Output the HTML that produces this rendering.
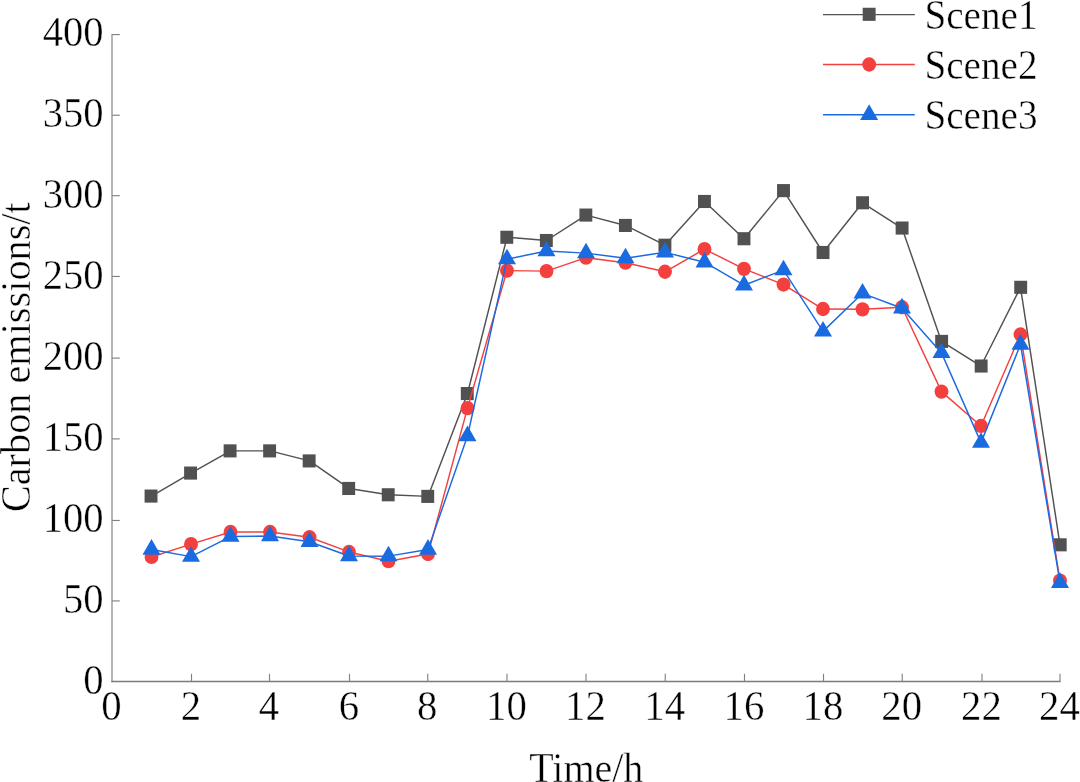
<!DOCTYPE html>
<html lang="en">
<head>
<meta charset="utf-8">
<title>Carbon emissions</title>
<style>
html,body{margin:0;padding:0;background:#fff;}
body{width:1080px;height:782px;overflow:hidden;}
svg{display:block;}
text{font-family:"Liberation Serif","Times New Roman",serif;font-size:40px;fill:#000;stroke:#fff;stroke-width:0.4px;}
</style>
</head>
<body>
<svg width="1080" height="782" viewBox="0 0 1080 782">
<rect width="1080" height="782" fill="#fff"/>

<path d="M112 34V682.15" stroke="#8a8a8a" stroke-width="1.25" fill="none"/>
<path d="M111.4 681.5H1060.6" stroke="#7a7a7a" stroke-width="1.3" fill="none"/>
<g stroke="#828282" stroke-width="1.15" fill="none">
<path d="M112.1 600.92H119.8"/>
<path d="M112.1 520.46H119.8"/>
<path d="M112.1 438.88H119.8"/>
<path d="M112.1 358.1H119.8"/>
<path d="M112.1 276.46H119.8"/>
<path d="M112.1 195.69H119.8"/>
<path d="M112.1 115.23H119.8"/>
<path d="M112.1 34.58H119.8"/>
<path d="M191.5 681.5V673.8"/>
<path d="M269.5 681.5V673.8"/>
<path d="M349.5 681.5V673.8"/>
<path d="M427.75 681.5V673.8"/>
<path d="M507 681.5V673.8"/>
<path d="M586 681.5V673.8"/>
<path d="M665.25 681.5V673.8"/>
<path d="M744.5 681.5V673.8"/>
<path d="M823.5 681.5V673.8"/>
<path d="M902.25 681.5V673.8"/>
<path d="M982 681.5V673.8"/>
<path d="M1060 681.5V673.8"/>
</g>
<text transform="translate(103.5 693.65) scale(1.015 1.068)" text-anchor="end">0</text>
<text transform="translate(103.5 612.67) scale(1.015 1.068)" text-anchor="end">50</text>
<text transform="translate(103.5 531.7) scale(1.015 1.068)" text-anchor="end">100</text>
<text transform="translate(103.5 450.73) scale(1.015 1.068)" text-anchor="end">150</text>
<text transform="translate(103.5 369.75) scale(1.015 1.068)" text-anchor="end">200</text>
<text transform="translate(103.5 288.77) scale(1.015 1.068)" text-anchor="end">250</text>
<text transform="translate(103.5 207.8) scale(1.015 1.068)" text-anchor="end">300</text>
<text transform="translate(103.5 126.82) scale(1.015 1.068)" text-anchor="end">350</text>
<text transform="translate(103.5 45.85) scale(1.015 1.068)" text-anchor="end">400</text>
<text transform="translate(111.5 720.4) scale(1.02 1.065)" text-anchor="middle">0</text>
<text transform="translate(191 720.4) scale(1.02 1.065)" text-anchor="middle">2</text>
<text transform="translate(269 720.4) scale(1.02 1.065)" text-anchor="middle">4</text>
<text transform="translate(349 720.4) scale(1.02 1.065)" text-anchor="middle">6</text>
<text transform="translate(427.25 720.4) scale(1.02 1.065)" text-anchor="middle">8</text>
<text transform="translate(506.5 720.4) scale(1.02 1.065)" text-anchor="middle">10</text>
<text transform="translate(585.5 720.4) scale(1.02 1.065)" text-anchor="middle">12</text>
<text transform="translate(664.75 720.4) scale(1.02 1.065)" text-anchor="middle">14</text>
<text transform="translate(744 720.4) scale(1.02 1.065)" text-anchor="middle">16</text>
<text transform="translate(823 720.4) scale(1.02 1.065)" text-anchor="middle">18</text>
<text transform="translate(901.75 720.4) scale(1.02 1.065)" text-anchor="middle">20</text>
<text transform="translate(981.5 720.4) scale(1.02 1.065)" text-anchor="middle">22</text>
<text transform="translate(1059.5 720.4) scale(1.02 1.065)" text-anchor="middle">24</text>
<text transform="translate(586.3 782.3) scale(1.0 1.065)" text-anchor="middle">Time/h</text>
<text transform="translate(29.5 357.2) rotate(-90) scale(1.007 1.07)" text-anchor="middle">Carbon emissions/t</text>
<polyline points="151.5,496.07 191,473.07 230.5,450.88 270,450.88 309.5,460.92 349,488.46 388.5,494.77 428,496.39 467.5,393.55 507,237.27 546.5,240.51 586,215.08 625.5,225.45 665,245.21 704.5,201.48 744,238.73 783.5,190.63 823,252.49 862.5,202.78 902,228.04 941.5,341.41 981,366.02 1020.5,287.31 1060,544.81" fill="none" stroke="#515151" stroke-width="1.45" stroke-linejoin="round"/>
<g><rect x="144.58" y="489.52" width="12.9" height="13.1" fill="#515151"/><rect x="184.11" y="466.52" width="12.9" height="13.1" fill="#515151"/><rect x="223.64" y="444.33" width="12.9" height="13.1" fill="#515151"/><rect x="263.17" y="444.33" width="12.9" height="13.1" fill="#515151"/><rect x="302.7" y="454.37" width="12.9" height="13.1" fill="#515151"/><rect x="342.23" y="481.91" width="12.9" height="13.1" fill="#515151"/><rect x="381.76" y="488.22" width="12.9" height="13.1" fill="#515151"/><rect x="421.29" y="489.84" width="12.9" height="13.1" fill="#515151"/><rect x="460.82" y="387" width="12.9" height="13.1" fill="#515151"/><rect x="500.35" y="230.72" width="12.9" height="13.1" fill="#515151"/><rect x="539.88" y="233.96" width="12.9" height="13.1" fill="#515151"/><rect x="579.41" y="208.53" width="12.9" height="13.1" fill="#515151"/><rect x="618.94" y="218.9" width="12.9" height="13.1" fill="#515151"/><rect x="658.47" y="238.66" width="12.9" height="13.1" fill="#515151"/><rect x="698" y="194.93" width="12.9" height="13.1" fill="#515151"/><rect x="737.53" y="232.18" width="12.9" height="13.1" fill="#515151"/><rect x="777.06" y="184.08" width="12.9" height="13.1" fill="#515151"/><rect x="816.59" y="245.94" width="12.9" height="13.1" fill="#515151"/><rect x="856.12" y="196.23" width="12.9" height="13.1" fill="#515151"/><rect x="895.65" y="221.49" width="12.9" height="13.1" fill="#515151"/><rect x="935.18" y="334.86" width="12.9" height="13.1" fill="#515151"/><rect x="974.71" y="359.47" width="12.9" height="13.1" fill="#515151"/><rect x="1014.24" y="280.76" width="12.9" height="13.1" fill="#515151"/><rect x="1053.77" y="538.26" width="12.9" height="13.1" fill="#515151"/></g>
<polyline points="151.5,556.96 191,544.17 230.5,532.02 270,532.02 309.5,537.2 349,551.94 388.5,561.17 428,554.05 467.5,408.13 507,270.63 546.5,271.12 586,257.68 625.5,262.7 665,271.77 704.5,249.17 744,268.85 783.5,284.56 823,309.01 862.5,309.34 902,307.23 941.5,391.61 981,425.94 1020.5,334.44 1060,580.61" fill="none" stroke="#f3403f" stroke-width="1.45" stroke-linejoin="round"/>
<g><ellipse cx="151.5" cy="556.96" rx="6.95" ry="7.15" fill="#f3403f"/><ellipse cx="191" cy="544.17" rx="6.95" ry="7.15" fill="#f3403f"/><ellipse cx="230.5" cy="532.02" rx="6.95" ry="7.15" fill="#f3403f"/><ellipse cx="270" cy="532.02" rx="6.95" ry="7.15" fill="#f3403f"/><ellipse cx="309.5" cy="537.2" rx="6.95" ry="7.15" fill="#f3403f"/><ellipse cx="349" cy="551.94" rx="6.95" ry="7.15" fill="#f3403f"/><ellipse cx="388.5" cy="561.17" rx="6.95" ry="7.15" fill="#f3403f"/><ellipse cx="428" cy="554.05" rx="6.95" ry="7.15" fill="#f3403f"/><ellipse cx="467.5" cy="408.13" rx="6.95" ry="7.15" fill="#f3403f"/><ellipse cx="507" cy="270.63" rx="6.95" ry="7.15" fill="#f3403f"/><ellipse cx="546.5" cy="271.12" rx="6.95" ry="7.15" fill="#f3403f"/><ellipse cx="586" cy="257.68" rx="6.95" ry="7.15" fill="#f3403f"/><ellipse cx="625.5" cy="262.7" rx="6.95" ry="7.15" fill="#f3403f"/><ellipse cx="665" cy="271.77" rx="6.95" ry="7.15" fill="#f3403f"/><ellipse cx="704.5" cy="249.17" rx="6.95" ry="7.15" fill="#f3403f"/><ellipse cx="744" cy="268.85" rx="6.95" ry="7.15" fill="#f3403f"/><ellipse cx="783.5" cy="284.56" rx="6.95" ry="7.15" fill="#f3403f"/><ellipse cx="823" cy="309.01" rx="6.95" ry="7.15" fill="#f3403f"/><ellipse cx="862.5" cy="309.34" rx="6.95" ry="7.15" fill="#f3403f"/><ellipse cx="902" cy="307.23" rx="6.95" ry="7.15" fill="#f3403f"/><ellipse cx="941.5" cy="391.61" rx="6.95" ry="7.15" fill="#f3403f"/><ellipse cx="981" cy="425.94" rx="6.95" ry="7.15" fill="#f3403f"/><ellipse cx="1020.5" cy="334.44" rx="6.95" ry="7.15" fill="#f3403f"/><ellipse cx="1060" cy="580.61" rx="6.95" ry="7.15" fill="#f3403f"/></g>
<polyline points="151.5,549.51 191,556.64 230.5,536.55 270,536.07 309.5,541.74 349,555.99 388.5,556.15 428,549.51 467.5,435.98 507,259.13 546.5,251.04 586,253.14 625.5,258.16 665,252.33 704.5,262.21 744,285.21 783.5,270.15 823,331.36 862.5,293.31 902,308.21 941.5,352.9 981,442.62 1020.5,344.48 1060,582.71" fill="none" stroke="#1a6ae0" stroke-width="1.45" stroke-linejoin="round"/>
<g><polygon points="151.5,539.11 160.5,554.71 142.5,554.71" fill="#1a6ae0"/><polygon points="191,546.24 200,561.84 182,561.84" fill="#1a6ae0"/><polygon points="230.5,526.15 239.5,541.75 221.5,541.75" fill="#1a6ae0"/><polygon points="270,525.67 279,541.27 261,541.27" fill="#1a6ae0"/><polygon points="309.5,531.34 318.5,546.94 300.5,546.94" fill="#1a6ae0"/><polygon points="349,545.59 358,561.19 340,561.19" fill="#1a6ae0"/><polygon points="388.5,545.75 397.5,561.35 379.5,561.35" fill="#1a6ae0"/><polygon points="428,539.11 437,554.71 419,554.71" fill="#1a6ae0"/><polygon points="467.5,425.58 476.5,441.18 458.5,441.18" fill="#1a6ae0"/><polygon points="507,248.73 516,264.33 498,264.33" fill="#1a6ae0"/><polygon points="546.5,240.64 555.5,256.24 537.5,256.24" fill="#1a6ae0"/><polygon points="586,242.74 595,258.34 577,258.34" fill="#1a6ae0"/><polygon points="625.5,247.76 634.5,263.36 616.5,263.36" fill="#1a6ae0"/><polygon points="665,241.93 674,257.53 656,257.53" fill="#1a6ae0"/><polygon points="704.5,251.81 713.5,267.41 695.5,267.41" fill="#1a6ae0"/><polygon points="744,274.81 753,290.41 735,290.41" fill="#1a6ae0"/><polygon points="783.5,259.75 792.5,275.35 774.5,275.35" fill="#1a6ae0"/><polygon points="823,320.96 832,336.56 814,336.56" fill="#1a6ae0"/><polygon points="862.5,282.91 871.5,298.51 853.5,298.51" fill="#1a6ae0"/><polygon points="902,297.81 911,313.41 893,313.41" fill="#1a6ae0"/><polygon points="941.5,342.5 950.5,358.1 932.5,358.1" fill="#1a6ae0"/><polygon points="981,432.22 990,447.82 972,447.82" fill="#1a6ae0"/><polygon points="1020.5,334.08 1029.5,349.68 1011.5,349.68" fill="#1a6ae0"/><polygon points="1060,572.31 1069,587.91 1051,587.91" fill="#1a6ae0"/></g>
<path d="M823 14.6H914.8" stroke="#515151" stroke-width="1.45"/>
<rect x="862.7" y="7.75" width="12.9" height="13.1" fill="#515151"/>
<text transform="translate(924.4 28.6) scale(0.98 1.07)" text-anchor="start">Scene1</text>
<path d="M823 64.5H914.8" stroke="#f3403f" stroke-width="1.45"/>
<ellipse cx="869.15" cy="64.5" rx="6.95" ry="7.15" fill="#f3403f"/>
<text transform="translate(924.4 78.5) scale(0.98 1.07)" text-anchor="start">Scene2</text>
<path d="M823 114.7H914.8" stroke="#1a6ae0" stroke-width="1.45"/>
<polygon points="869.15,104.3 878.15,119.9 860.15,119.9" fill="#1a6ae0"/>
<text transform="translate(924.4 128.7) scale(0.98 1.07)" text-anchor="start">Scene3</text>
</svg>
</body>
</html>
